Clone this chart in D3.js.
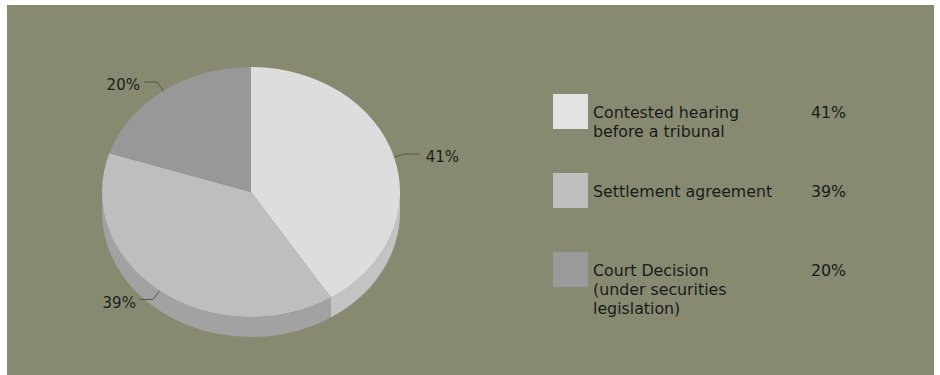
<!DOCTYPE html>
<html>
<head>
<meta charset="utf-8">
<script src="https://cdn.jsdelivr.net/npm/d3@7"></script>
<style>
  body { margin: 0; background: #fff; }
  svg { display: block; font-family: "DejaVu Sans", Verdana, sans-serif; }
</style>
</head>
<body>
<svg id="chart" width="940" height="375"></svg>
<script>
// chart data
const categories = ["Contested hearing\nbefore a tribunal", "Settlement agreement", "Court Decision\n(under securities\nlegislation)"];
const values = [41, 39, 20];
const pctLabels = ["41%", "39%", "20%"];
const topColors = ["#dcdddc", "#bebebe", "#989898"];
const sideColors = ["#c3c3c3", "#a2a2a2", "#868686"];
const swatchColors = ["#e2e2e2", "#bfbfbf", "#9a9a9a"];

const svg = d3.select('#chart');

// panel
svg.append('rect')
    .attr('x', 7).attr('y', 5)
    .attr('width', 927).attr('height', 370)
    .attr('fill', '#878a70');

// pie geometry
const cx = 251, cy = 192, rx = 149, ry = 125, depth = 20;
const k = ry / rx; // vertical squash

const pie = d3.pie().sort(null).value(d => d)(values);

const pieG = svg.append('g')
    .attr('transform', `translate(${cx},${cy}) scale(1,${k})`);

// side walls (front half only: angles PI/2 .. 3PI/2)
const dz = depth / k;
pie.forEach((d, i) => {
    const a0 = Math.max(d.startAngle, Math.PI / 2);
    const a1 = Math.min(d.endAngle, 3 * Math.PI / 2);
    if (a1 <= a0) return;
    const p = d3.path();
    const s0 = a0 - Math.PI / 2, s1 = a1 - Math.PI / 2;
    p.moveTo(rx * Math.cos(s0), rx * Math.sin(s0));
    p.arc(0, 0, rx, s0, s1);
    p.lineTo(rx * Math.cos(s1), rx * Math.sin(s1) + dz);
    p.arc(0, dz, rx, s1, s0, true);
    p.closePath();
    pieG.append('path')
        .attr('d', p.toString())
        .attr('fill', sideColors[i]);
});

// top faces
const arc = d3.arc().innerRadius(0).outerRadius(rx);
pieG.selectAll('path.slice')
    .data(pie)
    .join('path')
    .attr('class', 'slice')
    .attr('d', arc)
    .attr('fill', (d, i) => topColors[i]);

// leader lines + outside labels
pie.forEach((d, i) => {
    const mid = (d.startAngle + d.endAngle) / 2;
    const ux = Math.sin(mid), uy = -Math.cos(mid);
    const px = cx + rx * ux, py = cy + ry * uy;
    const ex = px + 11 * ux, ey = py + 11 * uy;
    const right = ux > 0;
    const tx = ex + (right ? 15 : -13);
    svg.append('path')
        .attr('d', `M${px},${py}L${ex},${ey}L${tx},${ey}`)
        .attr('fill', 'none')
        .attr('stroke', '#55584a')
        .attr('stroke-width', 1);
    svg.append('text')
        .attr('x', tx + (right ? 6 : -4))
        .attr('y', ey + 3)
        .attr('dy', '0.36em')
        .attr('text-anchor', right ? 'start' : 'end')
        .attr('font-size', 15)
        .attr('fill', '#1c1c1c')
        .text(pctLabels[i]);
});

// legend
const legend = svg.append('g').attr('transform', 'translate(553,94)');
const rows = legend.selectAll('g.row')
    .data(categories)
    .join('g')
    .attr('class', 'row')
    .attr('transform', (d, i) => `translate(0,${i * 79})`);

rows.append('rect')
    .attr('width', 35).attr('height', 35)
    .attr('fill', (d, i) => swatchColors[i]);

rows.each(function (d, i) {
    const lines = d.split('\n');
    const t = d3.select(this).append('text')
        .attr('x', 40)
        .attr('font-size', 15.8)
        .attr('fill', '#1a1a1a');
    lines.forEach((ln, j) => {
        t.append('tspan')
            .attr('x', 40)
            .attr('y', 24 + j * 18.8)
            .text(ln);
    });
    d3.select(this).append('text')
        .attr('x', 293)
        .attr('y', 24)
        .attr('text-anchor', 'end')
        .attr('font-size', 15.8)
        .attr('fill', '#1a1a1a')
        .text(pctLabels[i]);
});
</script>
</body>
</html>
